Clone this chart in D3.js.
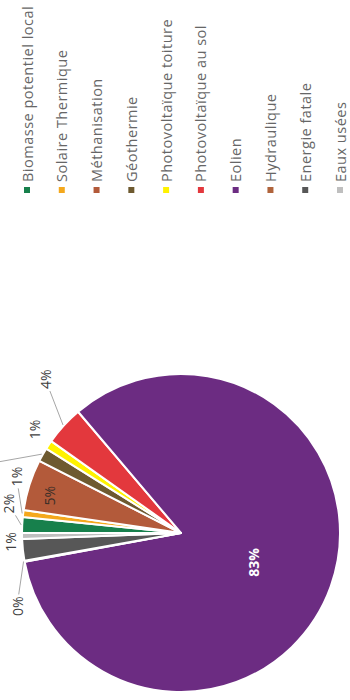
<!DOCTYPE html>
<html>
<head>
<meta charset="utf-8">
<script src="https://cdn.jsdelivr.net/npm/d3@7"></script>
<style>
  html, body { margin: 0; padding: 0; background: #fff; }
  svg { display: block; }
  text { font-family: "Open Sans", "Noto Sans", sans-serif; }
</style>
</head>
<body>
<script>
// Energy potential mix, by source (share of total, %)
const categories = [
  "Biomasse potentiel local", "Solaire Thermique", "Méthanisation", "Géothermie",
  "Photovoltaïque toiture", "Photovoltaïque au sol", "Eolien", "Hydraulique",
  "Energie fatale", "Eaux usées"
];
const shares = [1.6, 0.7, 5.2, 1.4, 0.9, 4.0, 83.3, 0.1, 2.2, 0.6];
const colors = [
  "#17804c", "#f4a81d", "#b35a3a", "#6e5a30", "#fff200",
  "#e3383d", "#6c2c82", "#b0643c", "#575757", "#bfbfbf"
];

// Label placement relative to each slice:
// [angle shift (deg), radial shift (px), leader line, text shown]
// null = nothing drawn for that slice
const labelLayout = [
  [6.8, 16, true, true],       // Biomasse
  [11.9, 15, true, true],      // Solaire
  [-1.8, -22, false, true],    // Méthanisation (inside)
  [-11, 54, true, false],      // Géothermie (leader runs out past the left edge)
  [1.5, 20.7, false, true],    // PV toiture
  [6.1, 46, true, true],       // PV au sol
  [2.3, -80.4, false, true],   // Eolien (inside)
  [-13.8, 20.6, true, true],   // Hydraulique
  null,                        // Energie fatale
  [-1.9, 12, false, true]      // Eaux usées
];

const svg = d3.select("body").append("svg")
  .attr("width", 350).attr("height", 700);

// chart laid out landscape (700 x 350), then turned a quarter turn
const g = svg.append("g").attr("transform", "translate(0,700) rotate(-90)");

const cx = 167, cy = 181, R = 159;
const total = d3.sum(shares);
const pct = d3.format(".0%");

const pie = d3.pie().sort(null).value(d => d.v);
const arcs = pie(categories.map((c, i) => ({ c, v: shares[i], i })));
const arc = d3.arc().innerRadius(0).outerRadius(R);

const pieG = g.append("g").attr("transform", `translate(${cx},${cy})`);

pieG.selectAll("path.slice")
  .data(arcs)
  .join("path")
  .attr("class", "slice")
  .attr("d", arc)
  .attr("fill", d => colors[d.data.i])
  .attr("stroke", "#fff")
  .attr("stroke-width", 2)
  .attr("stroke-linejoin", "round");

// polar helper in pie coordinates (angle 0 at top, clockwise)
const polar = (a, r) => [r * Math.sin(a), -r * Math.cos(a)];
const rad = Math.PI / 180;
const labelFont = 14;

arcs.forEach(d => {
  const lay = labelLayout[d.data.i];
  if (!lay) return;
  const mid = (d.startAngle + d.endAngle) / 2;
  const a = mid + lay[0] * rad;
  const r = R + lay[1];
  const [lx, ly] = polar(a, r);
  const inside = lay[1] < 0;
  const isBig = d.data.i === 6;

  let hw = 0, hh = 0;
  if (lay[3]) {
    const t = pieG.append("text")
      .attr("x", lx).attr("y", ly)
      .attr("text-anchor", "middle")
      .attr("dominant-baseline", "central")
      .attr("font-size", labelFont)
      .attr("font-weight", isBig ? 700 : 400)
      .attr("fill", isBig ? "#ffffff" : (inside ? "#3a2e28" : "#404040"))
      .text(pct(d.data.v / total));
    hw = t.node().getComputedTextLength() / 2 + 2;
    hh = labelFont / 2 + 1;
  }

  if (lay[2]) {
    const [ex, ey] = polar(mid, R + 1);
    const dx = ex - lx, dy = ey - ly;
    const s = lay[3] ? Math.min(hw / Math.abs(dx || 1e-6), hh / Math.abs(dy || 1e-6)) : 0;
    pieG.append("line")
      .attr("x1", lx + dx * s).attr("y1", ly + dy * s)
      .attr("x2", ex).attr("y2", ey)
      .attr("stroke", "#a6a6a6")
      .attr("stroke-width", 1);
  }
});

// Legend
const legendY = d3.scalePoint().domain(categories).range([27, 340]);
const legendX = 510;
const leg = g.append("g");
categories.forEach((c, i) => {
  const y = legendY(c);
  leg.append("rect")
    .attr("x", legendX - 3).attr("y", y - 3)
    .attr("width", 6).attr("height", 6)
    .attr("fill", colors[i]);
  leg.append("text")
    .attr("x", legendX + 8).attr("y", y)
    .attr("dominant-baseline", "central")
    .attr("font-size", 14.5)
    .attr("letter-spacing", 0.5)
    .attr("fill", "#666666")
    .text(c);
});
</script>
</body>
</html>
